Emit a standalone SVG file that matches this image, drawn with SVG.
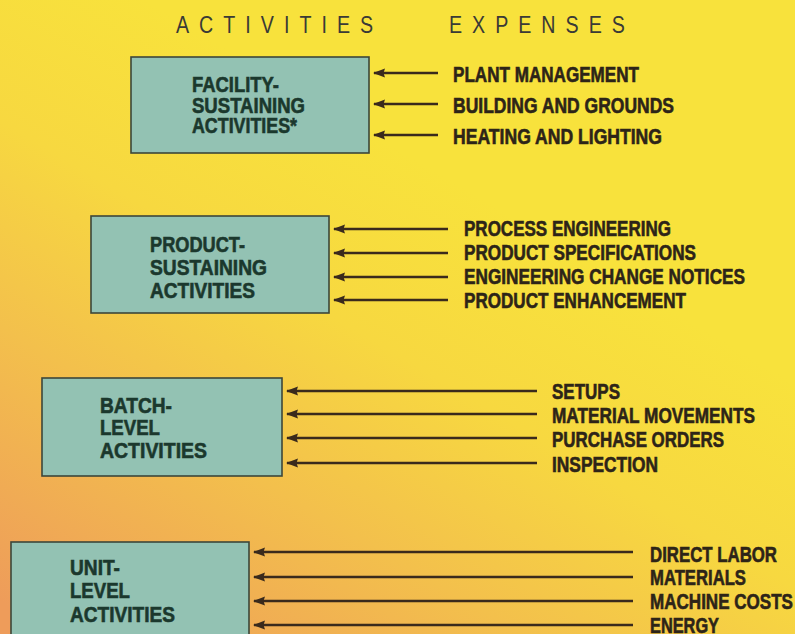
<svg xmlns="http://www.w3.org/2000/svg" width="795" height="634" viewBox="0 0 795 634">
  <defs>
    <linearGradient id="bg" gradientUnits="userSpaceOnUse" x1="400" y1="150" x2="100" y2="660">
      <stop offset="0" stop-color="#F8E23C"/>
      <stop offset="0.3" stop-color="#F7D840"/>
      <stop offset="0.6" stop-color="#F3C04C"/>
      <stop offset="1" stop-color="#EE9C5A"/>
    </linearGradient>
    <marker id="ah" markerUnits="userSpaceOnUse" markerWidth="14" markerHeight="11" refX="1" refY="5.5" orient="auto">
      <path d="M0,5.5 L12,1 L10.5,5.5 L12,10 Z" fill="#3a2a1c"/>
    </marker>
    <style>
      .box { fill: #93C2B3; stroke: #3d463a; stroke-width: 1.6; }
      .bt { font-family: "Liberation Sans", Arial, sans-serif; font-weight: bold; font-size: 21.5px; fill: #1b382d; stroke: #1b382d; stroke-width: 0.6; }
      .et { font-family: "Liberation Sans", Arial, sans-serif; font-weight: bold; font-size: 21.5px; fill: #2d2418; stroke: #2d2418; stroke-width: 0.6; }
      .hd { font-family: "Liberation Sans", Arial, sans-serif; font-weight: normal; font-size: 24px; fill: #3a3a36; }
      .ar { stroke: #3a2a1c; stroke-width: 2.6; fill: none; marker-start: url(#ah); }
    </style>
  </defs>
  <rect x="0" y="0" width="795" height="634" fill="url(#bg)"/>

  <g id="headers">
    <text class="hd" transform="scale(0.82,1)" x="214.6 242.8 272.3 299.1 318.0 346.2 365.1 392.0 410.9 439.0" y="33">ACTIVITIES</text>
    <text class="hd" transform="scale(0.82,1)" x="547.6 575.7 603.9 632.1 660.2 689.8 717.9 746.1" y="33">EXPENSES</text>
  </g>

  <g id="node-facility">
    <rect class="box" x="131" y="57" width="238" height="96"/>
    <text class="bt" x="192" y="92" textLength="87" lengthAdjust="spacingAndGlyphs">FACILITY-</text>
    <text class="bt" x="192" y="112.5" textLength="113" lengthAdjust="spacingAndGlyphs">SUSTAINING</text>
    <text class="bt" x="192" y="133" textLength="105" lengthAdjust="spacingAndGlyphs">ACTIVITIES*</text>
  </g>
  <g id="node-product">
    <rect class="box" x="91" y="216" width="238" height="97"/>
    <text class="bt" x="150" y="252" textLength="95" lengthAdjust="spacingAndGlyphs">PRODUCT-</text>
    <text class="bt" x="150" y="275" textLength="117" lengthAdjust="spacingAndGlyphs">SUSTAINING</text>
    <text class="bt" x="150" y="298" textLength="105" lengthAdjust="spacingAndGlyphs">ACTIVITIES</text>
  </g>
  <g id="node-batch">
    <rect class="box" x="42" y="378" width="240" height="98"/>
    <text class="bt" x="100" y="413" textLength="72" lengthAdjust="spacingAndGlyphs">BATCH-</text>
    <text class="bt" x="100" y="435" textLength="60" lengthAdjust="spacingAndGlyphs">LEVEL</text>
    <text class="bt" x="100" y="458" textLength="107" lengthAdjust="spacingAndGlyphs">ACTIVITIES</text>
  </g>
  <g id="node-unit">
    <rect class="box" x="11" y="542" width="238" height="110"/>
    <text class="bt" x="70" y="575" textLength="50" lengthAdjust="spacingAndGlyphs">UNIT-</text>
    <text class="bt" x="70" y="598" textLength="60" lengthAdjust="spacingAndGlyphs">LEVEL</text>
    <text class="bt" x="70" y="622" textLength="105" lengthAdjust="spacingAndGlyphs">ACTIVITIES</text>
  </g>

  <g id="expenses">
    <text class="et" x="453" y="82" textLength="186" lengthAdjust="spacingAndGlyphs">PLANT MANAGEMENT</text>
    <text class="et" x="453" y="113" textLength="221" lengthAdjust="spacingAndGlyphs">BUILDING AND GROUNDS</text>
    <text class="et" x="453" y="144" textLength="209" lengthAdjust="spacingAndGlyphs">HEATING AND LIGHTING</text>

    <text class="et" x="464" y="236" textLength="207" lengthAdjust="spacingAndGlyphs">PROCESS ENGINEERING</text>
    <text class="et" x="464" y="260" textLength="232" lengthAdjust="spacingAndGlyphs">PRODUCT SPECIFICATIONS</text>
    <text class="et" x="464" y="284" textLength="281" lengthAdjust="spacingAndGlyphs">ENGINEERING CHANGE NOTICES</text>
    <text class="et" x="464" y="308" textLength="222" lengthAdjust="spacingAndGlyphs">PRODUCT ENHANCEMENT</text>

    <text class="et" x="552" y="399" textLength="68" lengthAdjust="spacingAndGlyphs">SETUPS</text>
    <text class="et" x="552" y="423" textLength="203" lengthAdjust="spacingAndGlyphs">MATERIAL MOVEMENTS</text>
    <text class="et" x="552" y="447" textLength="172" lengthAdjust="spacingAndGlyphs">PURCHASE ORDERS</text>
    <text class="et" x="552" y="472" textLength="106" lengthAdjust="spacingAndGlyphs">INSPECTION</text>

    <text class="et" x="650" y="562" textLength="127" lengthAdjust="spacingAndGlyphs">DIRECT LABOR</text>
    <text class="et" x="650" y="585" textLength="96" lengthAdjust="spacingAndGlyphs">MATERIALS</text>
    <text class="et" x="650" y="609" textLength="143" lengthAdjust="spacingAndGlyphs">MACHINE COSTS</text>
    <text class="et" x="650" y="633" textLength="69" lengthAdjust="spacingAndGlyphs">ENERGY</text>
  </g>

  <g id="connectors">
    <line class="ar" x1="374" y1="73" x2="438" y2="73"/>
    <line class="ar" x1="374" y1="104" x2="438" y2="104"/>
    <line class="ar" x1="374" y1="135" x2="438" y2="135"/>

    <line class="ar" x1="334" y1="229" x2="448" y2="229"/>
    <line class="ar" x1="334" y1="253" x2="448" y2="253"/>
    <line class="ar" x1="334" y1="277" x2="448" y2="277"/>
    <line class="ar" x1="334" y1="300" x2="448" y2="300"/>

    <line class="ar" x1="287" y1="391" x2="537" y2="391"/>
    <line class="ar" x1="287" y1="414" x2="537" y2="414"/>
    <line class="ar" x1="287" y1="438" x2="537" y2="438"/>
    <line class="ar" x1="287" y1="463" x2="537" y2="463"/>

    <line class="ar" x1="254" y1="552" x2="633" y2="552"/>
    <line class="ar" x1="254" y1="577" x2="633" y2="577"/>
    <line class="ar" x1="254" y1="601" x2="633" y2="601"/>
    <line class="ar" x1="254" y1="625" x2="633" y2="625"/>
  </g>
</svg>
